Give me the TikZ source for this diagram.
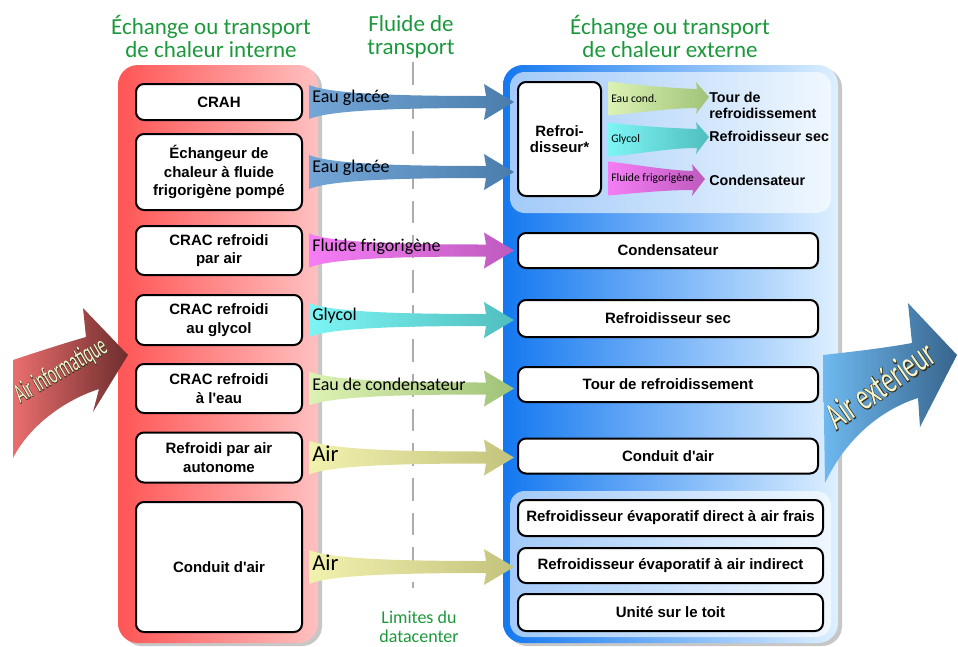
\documentclass[tikz,border=0pt]{standalone}
\usepackage{fontspec}
\setmainfont{Carlito}
\newfontfamily\arialf{Liberation Sans}
\newfontfamily\outlinef[FakeBold=3.5]{Carlito}
\usetikzlibrary{calc}
\definecolor{titlegreen}{RGB}{28,152,60}
\definecolor{redL}{RGB}{255,85,85}
\definecolor{redR}{RGB}{255,192,192}
\definecolor{blueL}{RGB}{20,120,240}
\definecolor{blueR}{RGB}{222,240,255}
\definecolor{iceL}{RGB}{115,165,215}
\definecolor{iceR}{RGB}{75,125,172}
\definecolor{refL}{RGB}{245,125,245}
\definecolor{refR}{RGB}{190,90,190}
\definecolor{glyL}{RGB}{125,245,245}
\definecolor{glyR}{RGB}{80,190,190}
\definecolor{cdwL}{RGB}{220,242,180}
\definecolor{cdwR}{RGB}{160,195,120}
\definecolor{airL}{RGB}{242,242,175}
\definecolor{airR}{RGB}{195,195,125}
\definecolor{itL}{RGB}{235,110,110}
\definecolor{itR}{RGB}{110,45,45}
\definecolor{extL}{RGB}{110,185,240}
\definecolor{extR}{RGB}{55,100,140}
\definecolor{pale}{RGB}{245,245,205}
\definecolor{outl}{RGB}{55,50,35}
\definecolor{dashgray}{RGB}{172,172,172}
\newcommand\boxfont{\arialf\bfseries\fontsize{11.25}{13.9}\selectfont}
\newcommand\lblfont{\arialf\bfseries\fontsize{10.7}{12}\selectfont}
\newcommand\titlefont{\fontsize{17.25}{17.25}\selectfont}
\newcommand\flowfont{\fontsize{13.5}{14}\selectfont}
\newcommand\airfont{\fontsize{17}{17}\selectfont}
\newcommand\smallflowfont{\fontsize{8.7}{9}\selectfont}
% big fluid arrow: src node, dst node, left colour, right colour, label, name
\newcommand{\fluid}[6]{%
  \coordinate (#6s) at ($(#1.east)+(6,0)$);
  \coordinate (#6m) at (#2.west |- #1.east);
  \coordinate (#6t) at ($(#6m)+(-3,0)$);
  \shade[left color=#3,right color=#4] ($(#6s)+(0,-17)$) .. controls ($(#6s)+(22,-8)$) and ($(#6s)+(90,-6)$) .. ($(#6t)+(-28,-6)$) -- ($(#6t)+(-30,-18)$) -- (#6t) -- ($(#6t)+(-30,18)$) -- ($(#6t)+(-28,6)$) .. controls ($(#6s)+(90,6)$) and ($(#6s)+(22,8)$) .. ($(#6s)+(0,17)$) -- cycle;
  \node[flowlabel] (#6) at ($(#6s)+(3,-4)$) {#5};
}
% small fluid arrow: start coord, tip coord, left colour, right colour, label, name
\newcommand{\sfluid}[6]{%
  \shade[left color=#3,right color=#4] ($(#1)+(0,-17)$) .. controls ($(#1)+(35,-13)$) and ($(#2)+(-40,-9)$) .. ($(#2)+(-12,-8)$) -- ($(#2)+(-13,-15)$) -- (#2) -- ($(#2)+(-13,17)$) -- ($(#2)+(-12,11)$) .. controls ($(#2)+(-40,11)$) and ($(#1)+(35,14)$) .. ($(#1)+(0,17)$) -- cycle;
  \node[sflowlabel] (#6) at ($(#1)+(3,0)$) {#5};
}
\tikzset{
  lbox/.style={draw=black, line width=1.5pt, rounded corners=6pt, fill=white, align=center, font=\boxfont, inner sep=0pt, minimum width=124.5pt},
  rbox/.style={lbox, minimum width=225pt},
  wbox/.style={lbox, minimum width=228.75pt},
  titletext/.style={text=titlegreen, font=\titlefont, align=center, inner sep=0pt},
  flowlabel/.style={anchor=west, font=\flowfont, inner sep=0pt, text=black},
  sflowlabel/.style={anchor=west, font=\smallflowfont, inner sep=0pt, text=black},
  lbl/.style={anchor=west, font=\lblfont, align=left, inner sep=0pt},
  bigtext/.style={inner sep=0pt},
}
\begin{document}
\begin{tikzpicture}[x=0.75pt,y=-0.75pt]
\useasboundingbox (0,0) rectangle (958,647);
% titles
\node[titletext] (H1) at (211,36.5) {Échange ou transport\\de chaleur interne};
\node[titletext] (H2) at (411,36.5) {Fluide de\\transport};
\node[titletext] (H3) at (670,36.5) {Échange ou transport\\de chaleur externe};
% panels with shadows
\fill[black, opacity=0.22, rounded corners=15pt] (122,68) rectangle (322,646);
\shade[left color=redL, right color=redR, rounded corners=15pt] (118,65) rectangle (318,643);
\fill[black, opacity=0.22, rounded corners=15pt] (507,68) rectangle (842,646);
\shade[left color=blueL, right color=blueR, rounded corners=15pt] (503,65) rectangle (838,643);
\fill[white, opacity=0.6, rounded corners=11pt] (510,72) rectangle (831,213);
\fill[white, opacity=0.6, rounded corners=11pt] (510,491) rectangle (831,637);
% datacenter boundary
\draw[dashgray, line width=2.2pt, dash pattern=on 17pt off 9pt] (413,62) -- (413,588);
\node[titletext, font=\fontsize{13.5}{14.5}\selectfont] (LIM) at (419,627) {Limites du\\datacenter};
% left boxes
\node[lbox, minimum height=27pt] (L1) at (219,102) {CRAH};
\node[lbox, minimum height=57pt] (L2) at (219,172) {Échangeur de\\chaleur à fluide\\frigorigène pompé};
\node[lbox, minimum height=36.75pt] (L3) at (219,250.5) {CRAC refroidi\\par air};
\node[lbox, minimum height=37.5pt] (L4) at (219,320) {CRAC refroidi\\au glycol};
\node[lbox, minimum height=36.75pt] (L5) at (219,388.5) {CRAC refroidi\\à l'eau};
\node[lbox, minimum height=37.5pt] (L6) at (219,457.5) {Refroidi par air\\autonome};
\node[lbox, minimum height=97.5pt] (L7) at (219,567) {Conduit d'air};
% right boxes
\node[lbox, minimum width=62.25pt, minimum height=85.5pt, font=\arialf\bfseries\fontsize{11.25}{12.5}\selectfont] (R0) at (559.5,139) {Refroi-\\disseur*};
\node[rbox, minimum height=26.25pt] (R1) at (668,250.5) {Condensateur};
\node[rbox, minimum height=27.75pt] (R2) at (668,318.5) {Refroidisseur sec};
\node[rbox, minimum height=26.25pt] (R3) at (668,384.5) {Tour de refroidissement};
\node[rbox, minimum height=26.25pt] (R4) at (668,456) {Conduit d'air};
\node[wbox, minimum height=27pt] (R5) at (670.5,518) {Refroidisseur évaporatif direct à air frais};
\node[wbox, minimum height=26.25pt] (R6) at (670.5,565.5) {Refroidisseur évaporatif à air indirect};
\node[wbox, minimum height=27.75pt] (R7) at (670.5,612.5) {Unité sur le toit};
% chiller outputs
\node[lbl] (T1) at (709,105) {Tour de\\refroidissement};
\node[lbl] (T2) at (709,136) {Refroidisseur sec};
\node[lbl] (T3) at (709,180) {Condensateur};
\coordinate (S1) at ($(R0.east)+(6,-40.5)$);
\coordinate (S2) at ($(R0.east)+(6,0.5)$);
\coordinate (S3) at ($(R0.east)+(6,39.5)$);
\coordinate (P1) at ($(T1.west)+(0,-8)$);
\coordinate (P2) at ($(T2.west)+(0,1)$);
\coordinate (P3) at ($(T3.west)+(-4,-1)$);
\sfluid{S1}{P1}{cdwL}{cdwR}{Eau cond.}{E1}
\sfluid{S2}{P2}{glyL}{glyR}{Glycol}{E2}
\sfluid{S3}{P3}{refL}{refR}{Fluide frigorigène}{E3}
% transport fluids
\fluid{L1}{R0}{iceL}{iceR}{Eau glacée}{F1}
\fluid{L2}{R0}{iceL}{iceR}{Eau glacée}{F2}
\fluid{L3}{R1}{refL}{refR}{Fluide frigorigène}{F3}
\fluid{L4}{R2}{glyL}{glyR}{Glycol}{F4}
\fluid{L5}{R3}{cdwL}{cdwR}{Eau de condensateur}{F5}
\fluid{L6}{R4}{airL}{airR}{\airfont Air}{F6}
\fluid{L7}{R6}{airL}{airR}{\airfont Air}{F7}
% IT air arrow
\shade[left color=itL, right color=itR] (13,360) .. controls (40,351) and (65,343) .. (86,337) -- (83,308) -- (128,355) -- (93,412) -- (99,389) .. controls (65,400) and (30,425) .. (13,458) -- cycle;
\node[bigtext, text=outl, rotate=30.4, xscale=0.55, font=\outlinef\fontsize{21}{21}\selectfont] (AIo) at (61,371) {Air informatique};
\node[bigtext, text=pale, rotate=30.4, xscale=0.55, font=\fontsize{21}{21}\selectfont] (AI) at (61,371) {Air informatique};
% outdoor air arrow
\shade[left color=extL, right color=extR] (823,355) .. controls (850,352) and (885,348) .. (912,343) -- (908,303) -- (957,355) -- (920,427) -- (918,398) .. controls (880,410) and (845,440) .. (825,483) -- cycle;
\node[bigtext, text=outl, rotate=34.5, xscale=0.63, font=\outlinef\fontsize{29}{29}\selectfont] (AEo) at (880,385) {Air extérieur};
\node[bigtext, text=pale, rotate=34.5, xscale=0.63, font=\fontsize{29}{29}\selectfont] (AE) at (880,385) {Air extérieur};
\end{tikzpicture}
\end{document}
